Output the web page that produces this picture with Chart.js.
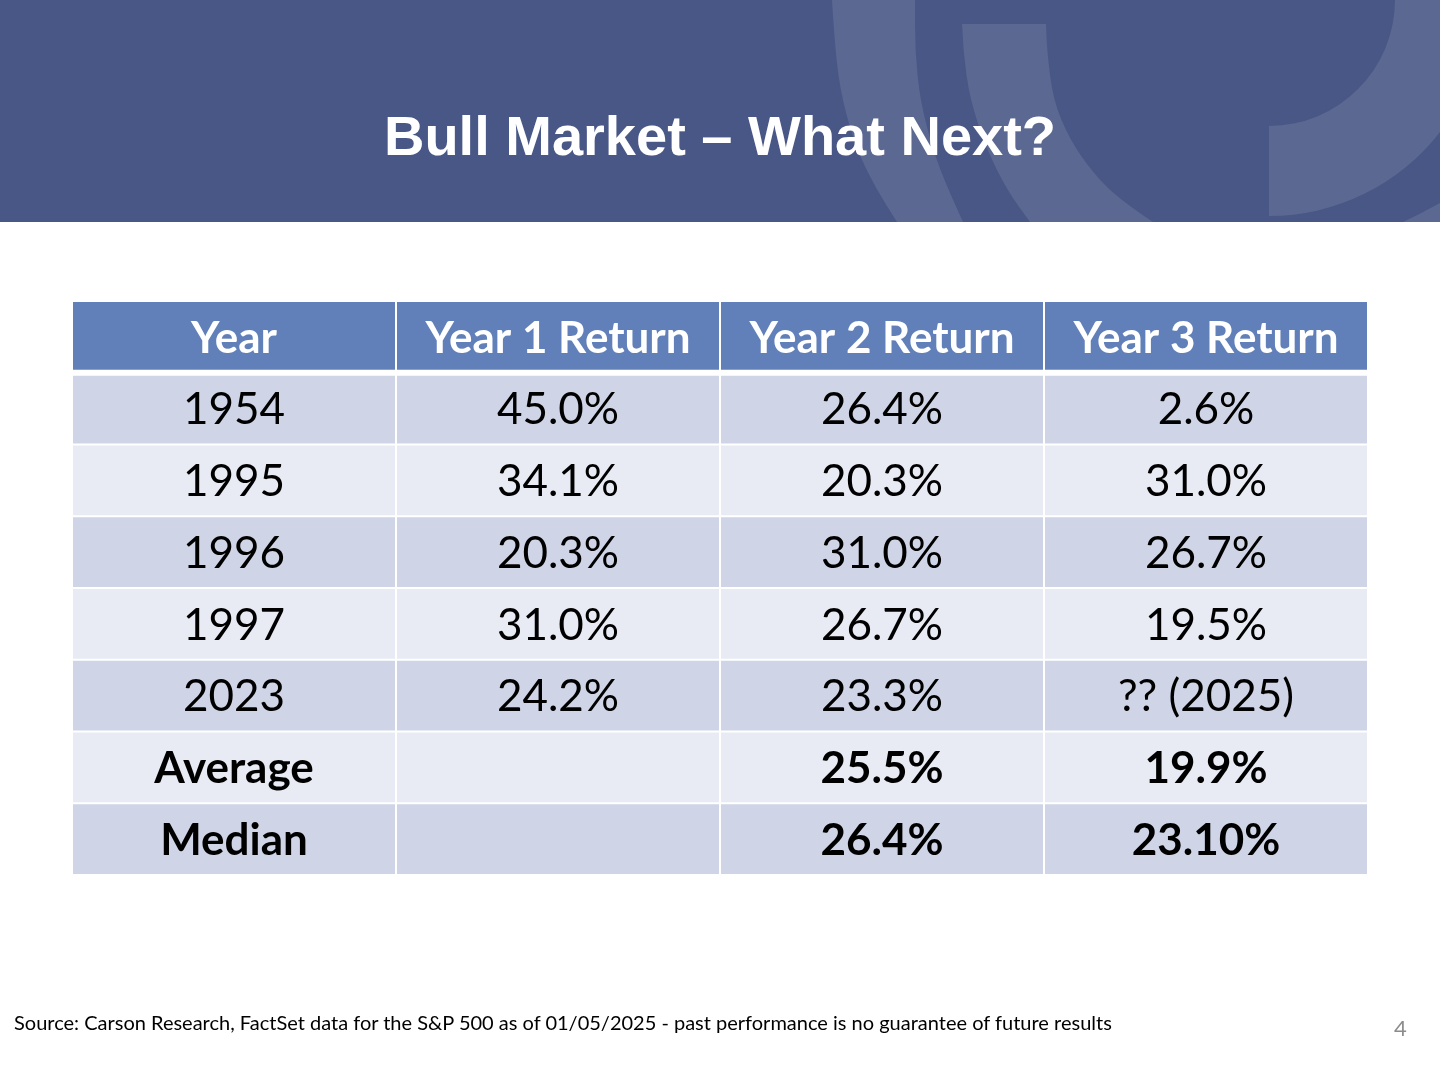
<!DOCTYPE html>
<html>
<head>
<meta charset="utf-8">
<script src="https://cdn.jsdelivr.net/npm/chart.js@4.4.1/dist/chart.umd.min.js"></script>
<style>
  body { margin: 0; background: #ffffff; }
  #slide { position: relative; width: 1440px; height: 1080px; overflow: hidden; }
  #table { position: absolute; left: 0; top: 0; }
  #title {
    position: absolute; left: 0; top: 108px; width: 1440px; text-align: center;
    font: bold 56px/56px "Liberation Sans", Arial, sans-serif; color: #ffffff;
  }
  #source {
    position: absolute; left: 14px; top: 1012px; white-space: nowrap;
    font: 20px/20px Lato, sans-serif; color: #000000;
  }
  #page {
    position: absolute; left: 1394px; top: 1017px;
    font: 22px/22px Lato, sans-serif; color: #8c8c8c;
  }
</style>
</head>
<body>
<div id="slide">
  <canvas id="table" width="1440" height="1080"></canvas>
  <div id="title">Bull Market – What Next?</div>
  <div id="source">Source: Carson Research, FactSet data for the S&amp;P 500 as of 01/05/2025 - past performance is no guarantee of future results</div>
  <div id="page">4</div>
</div>
<script>
// Table content
const headers = ['Year', 'Year 1 Return', 'Year 2 Return', 'Year 3 Return'];
const years = ['1954', '1995', '1996', '1997', '2023'];
const year1Return = ['45.0%', '34.1%', '20.3%', '31.0%', '24.2%'];
const year2Return = ['26.4%', '20.3%', '31.0%', '26.7%', '23.3%'];
const year3Return = ['2.6%', '31.0%', '26.7%', '19.5%', '?? (2025)'];
const summaryLabels = ['Average', 'Median'];
const year1Summary = ['', ''];
const year2Summary = ['25.5%', '26.4%'];
const year3Summary = ['19.9%', '23.10%'];

// one column of text per dataset
const columnText = [
    [headers[0], ...years, ...summaryLabels],
    [headers[1], ...year1Return, ...year1Summary],
    [headers[2], ...year2Return, ...year2Summary],
    [headers[3], ...year3Return, ...year3Summary]
];
const rowKeys = ['header', ...years, ...summaryLabels];

const HEADER_BLUE = '#6180b9';
const ROW_DARK = '#cfd5e6';
const ROW_LIGHT = '#e8ebf4';
const rowColors = rowKeys.map((k, i) => i === 0 ? HEADER_BLUE : (i % 2 === 1 ? ROW_DARK : ROW_LIGHT));
// thicker white rule under the header row
const rowBorders = rowKeys.map((k, i) => {
    if (i === 0) return { top: 1, left: 1, right: 1, bottom: 3 };
    if (i === 1) return { top: 3, left: 1, right: 1, bottom: 1 };
    return 1;
});

// smooth curve through points, continuing the current path
function smoothEdge(ctx, pts, start) {
    if (start) ctx.moveTo(pts[0][0], pts[0][1]);
    else ctx.lineTo(pts[0][0], pts[0][1]);
    for (let i = 1; i < pts.length - 1; i++) {
        const mx = (pts[i][0] + pts[i + 1][0]) / 2;
        const my = (pts[i][1] + pts[i + 1][1]) / 2;
        ctx.quadraticCurveTo(pts[i][0], pts[i][1], mx, my);
    }
    const last = pts[pts.length - 1];
    ctx.lineTo(last[0], last[1]);
}

// banner with the faint logo arcs
const bannerPlugin = {
    id: 'banner',
    beforeDraw(chart) {
        const ctx = chart.ctx;
        ctx.save();
        ctx.fillStyle = '#495786';
        ctx.fillRect(0, 0, 1440, 222);
        ctx.beginPath();
        ctx.rect(0, 0, 1440, 222);
        ctx.clip();
        ctx.fillStyle = '#5b6891';

        // outer band
        ctx.beginPath();
        smoothEdge(ctx, [[832, 0], [835, 50], [842, 100], [857, 150], [875, 187], [897, 222]], true);
        smoothEdge(ctx, [[963, 222], [947, 187], [933, 150], [920, 100], [915, 50], [915, 0]], false);
        ctx.closePath();
        ctx.fill();

        // second band
        ctx.beginPath();
        smoothEdge(ctx, [[962, 24], [963, 50], [970, 100], [987, 150], [1007, 190], [1030, 222]], true);
        smoothEdge(ctx, [[1153, 222], [1120, 200], [1093, 173], [1070, 140], [1053, 100], [1047, 50], [1046, 24]], false);
        ctx.closePath();
        ctx.fill();

        ctx.beginPath();
        ctx.moveTo(1403, 222);
        ctx.quadraticCurveTo(1422, 213, 1440, 203);
        ctx.lineTo(1440, 222);
        ctx.closePath();
        ctx.fill();

        // "P" shaped ring
        const cx = 1269, cy = 0, rIn = 126, rOut = 216;
        const a0 = Math.asin(Math.sqrt(rOut * rOut - (1440 - cx) * (1440 - cx)) / rOut);
        ctx.beginPath();
        ctx.moveTo(cx, cy + rIn);
        ctx.arc(cx, cy, rIn, Math.PI / 2, 0, true);
        ctx.lineTo(1440, 0);
        ctx.lineTo(1440, cy + Math.sin(a0) * rOut);
        ctx.arc(cx, cy, rOut, a0, Math.PI / 2, false);
        ctx.closePath();
        ctx.fill();
        ctx.restore();
    }
};

// cell text centred on each bar
const cellTextPlugin = {
    id: 'cellText',
    afterDatasetsDraw(chart) {
        const ctx = chart.ctx;
        ctx.save();
        ctx.textAlign = 'center';
        ctx.textBaseline = 'alphabetic';
        const size = 44;
        chart.data.datasets.forEach((ds, c) => {
            const meta = chart.getDatasetMeta(c);
            meta.data.forEach((bar, r) => {
                const text = columnText[c][r];
                if (!text) return;
                const p = bar.getProps(['x', 'y', 'base'], true);
                const isHeader = r === 0;
                const isSummary = r > years.length;
                ctx.font = (isHeader || isSummary ? 'bold ' : '') + size + 'px Lato';
                ctx.fillStyle = isHeader ? '#ffffff' : '#000000';
                ctx.fillText(text, (p.x + p.base) / 2, p.y + size * 0.716 / 2);
            });
        });
        ctx.restore();
    }
};

function drawTable() {
    new Chart(document.getElementById('table'), {
        type: 'bar',
        data: {
            labels: rowKeys,
            datasets: headers.map((h, c) => ({
                label: h,
                data: rowKeys.map(() => [c, c + 1]),
                backgroundColor: rowColors,
                borderColor: '#ffffff',
                borderWidth: rowBorders,
                borderSkipped: false,
                inflateAmount: 0,
                barPercentage: 1,
                categoryPercentage: 1,
                grouped: false
            }))
        },
        options: {
            indexAxis: 'y',
            responsive: false,
            animation: false,
            events: [],
            layout: { padding: { left: 72, right: 72, top: 301, bottom: 205 } },
            scales: {
                x: { type: 'linear', min: 0, max: 4, display: false },
                y: { display: false, offset: true }
            },
            plugins: {
                legend: { display: false },
                tooltip: { enabled: false }
            }
        },
        plugins: [bannerPlugin, cellTextPlugin]
    });
}

Promise.all([
    document.fonts.load('44px Lato'),
    document.fonts.load('bold 44px Lato')
]).then(drawTable, drawTable);
</script>
</body>
</html>
